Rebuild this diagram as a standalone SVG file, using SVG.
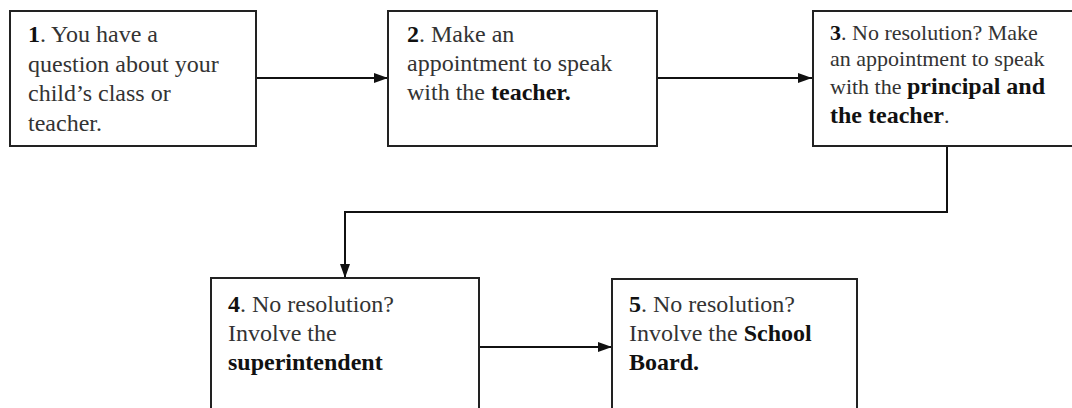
<svg xmlns="http://www.w3.org/2000/svg" width="1072" height="408" viewBox="0 0 1072 408">
<defs>
<style>
.box{fill:#fff;stroke:#222;stroke-width:2}
.t{font-family:"Liberation Serif","Times New Roman",serif;font-size:24px;fill:#333}
.t3{font-size:22px}
.b{font-weight:bold;fill:#111}
.b3{font-size:24px}
.conn{fill:none;stroke:#111;stroke-width:2}
</style>
<marker id="arr" viewBox="0 0 14 10" refX="14" refY="5" markerWidth="14" markerHeight="10" markerUnits="userSpaceOnUse" orient="auto">
<path d="M0,0 L14,5 L0,10 Z" fill="#111"/>
</marker>
</defs>
<rect width="1072" height="408" fill="#fff"/>
<g id="connectors">
<path class="conn" d="M256,78 H388" marker-end="url(#arr)"/>
<path class="conn" d="M657,78 H812" marker-end="url(#arr)"/>
<path class="conn" d="M947,146 V212 H345 V278" marker-end="url(#arr)"/>
<path class="conn" d="M479,347 H612" marker-end="url(#arr)"/>
</g>
<g id="node1">
<rect class="box" x="10" y="11" width="246" height="135"/>
<text class="t" x="28" y="42"><tspan class="b">1</tspan>. You have a</text>
<text class="t" x="28" y="72">question about your</text>
<text class="t" x="28" y="101">child’s class or</text>
<text class="t" x="28" y="131">teacher.</text>
</g>
<g id="node2">
<rect class="box" x="388" y="11" width="269" height="135"/>
<text class="t" x="407" y="42"><tspan class="b">2</tspan>. Make an</text>
<text class="t" x="407" y="71">appointment to speak</text>
<text class="t" x="407" y="100">with the <tspan class="b">teacher.</tspan></text>
</g>
<g id="node3">
<rect class="box" x="813" y="11" width="265" height="135"/>
<text class="t t3" x="830" y="40"><tspan class="b">3</tspan>. No resolution? Make</text>
<text class="t t3" x="830" y="66">an appointment to speak</text>
<text class="t t3" x="830" y="94">with the <tspan class="b b3">principal and</tspan></text>
<text class="t t3" x="830" y="123"><tspan class="b b3">the teacher</tspan>.</text>
</g>
<g id="node4">
<rect class="box" x="211" y="278" width="268" height="140"/>
<text class="t" x="228" y="312"><tspan class="b">4</tspan>. No resolution?</text>
<text class="t" x="228" y="341">Involve the</text>
<text class="t" x="228" y="370"><tspan class="b">superintendent</tspan></text>
</g>
<g id="node5">
<rect class="box" x="612" y="279" width="245" height="140"/>
<text class="t" x="629" y="312"><tspan class="b">5</tspan>. No resolution?</text>
<text class="t" x="629" y="341">Involve the <tspan class="b">School</tspan></text>
<text class="t" x="629" y="370"><tspan class="b">Board.</tspan></text>
</g>
</svg>
